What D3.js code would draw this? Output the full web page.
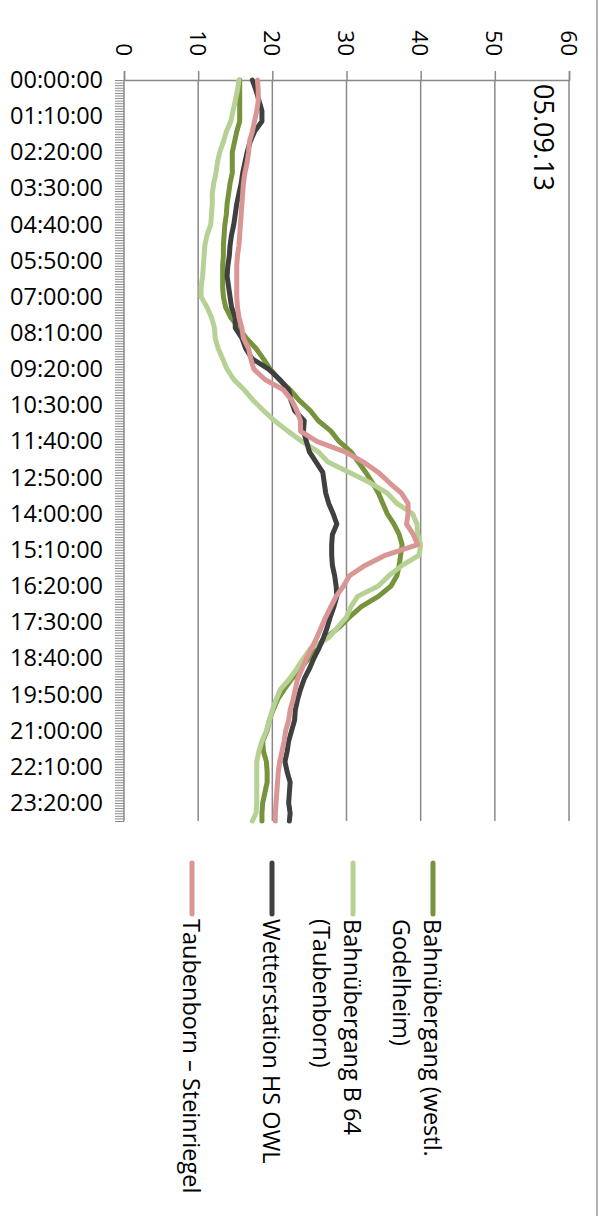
<!DOCTYPE html>
<html>
<head>
<meta charset="utf-8">
<script src="https://cdn.jsdelivr.net/npm/d3@7"></script>
<style>
  html, body { margin: 0; padding: 0; background: #fff; }
  svg { display: block; font-family: "Open Sans", sans-serif; }
</style>
</head>
<body>
<svg id="chart" width="610" height="1216"></svg>
<script>
// ---------- DATA ----------
const chartTitle = "05.09.13";
const tempTicks = [0, 10, 20, 30, 40, 50, 60];
const timeLabels = ["00:00:00","01:10:00","02:20:00","03:30:00","04:40:00","05:50:00","07:00:00",
  "08:10:00","09:20:00","10:30:00","11:40:00","12:50:00","14:00:00","15:10:00","16:20:00",
  "17:30:00","18:40:00","19:50:00","21:00:00","22:10:00","23:20:00"];
// sample times in minutes after midnight (read every 20 min)
const sampleMinutes = [0,20,40,60,80,100,120,140,160,180,200,220,240,260,280,300,320,340,360,380,
  400,420,440,460,480,500,520,540,560,580,600,620,640,660,680,700,720,740,760,780,800,820,840,860,
  880,900,920,940,960,980,1000,1020,1040,1060,1080,1100,1120,1140,1160,1180,1200,1220,1240,1260,
  1280,1300,1320,1340,1360,1380,1400,1420,1435];

const seriesNames = ["Bahnübergang (westl. Godelheim)", "Bahnübergang B 64 (Taubenborn)",
  "Wetterstation HS OWL", "Taubenborn – Steinriegel"];
const legendLines = [["Bahnübergang (westl.", "Godelheim)"], ["Bahnübergang B 64", "(Taubenborn)"],
  ["Wetterstation HS OWL"], ["Taubenborn – Steinriegel"]];

const godelheim = [15.6,15.6,15.6,15.6,15.6,15.2,14.9,14.6,14.6,14.6,14.3,14.1,13.9,13.8,13.6,13.5,
  13.4,13.4,13.3,13.3,13.3,13.4,13.7,14.4,15.5,16.5,17.8,18.8,19.7,20.9,22.4,23.6,25.1,26.2,27.9,
  29.0,30.6,31.6,32.6,33.5,34.3,34.9,35.5,36.4,37.1,37.5,37.3,37.1,36.8,36.0,34.3,32.0,30.4,29.0,
  27.2,26.0,24.9,23.8,22.6,21.6,20.7,20.1,19.6,19.3,18.7,18.8,19.2,19.3,19.3,19.0,18.7,18.6,18.6];
const b64 = [15.5,15.3,15.0,14.7,14.4,13.8,13.4,12.9,12.6,12.4,12.1,11.9,11.9,11.8,11.7,11.2,10.9,
  10.8,10.7,10.6,10.4,10.4,11.2,11.8,12.2,12.3,12.7,13.3,13.9,14.8,16.2,17.4,18.8,20.3,22.1,24.0,
  26.2,27.5,30.4,33.2,35.5,36.8,38.9,39.5,39.6,40.0,39.8,37.5,35.7,34.3,31.5,30.6,30.0,28.8,27.6,
  25.2,24.2,23.3,22.3,21.1,20.5,20.0,19.6,19.2,18.6,18.2,17.9,17.9,17.9,17.9,17.9,17.8,17.3];
const wetterstation = [17.3,17.8,18.2,18.6,18.6,17.6,17.0,16.6,16.3,16.0,15.8,15.5,15.2,15.0,14.8,
  14.5,14.3,14.2,14.0,13.9,14.1,14.3,14.5,15.0,15.0,15.9,16.4,17.3,19.5,21.0,22.2,22.5,23.0,24.3,
  24.2,24.6,25.0,25.9,26.8,27.0,27.2,27.6,28.2,28.7,28.1,28.0,28.0,28.1,28.4,28.6,28.7,28.3,27.8,
  27.4,26.9,26.3,25.6,25.0,24.3,23.8,23.4,23.1,23.0,22.6,22.2,22.0,21.7,22.0,22.4,22.3,22.2,22.4,22.3];
const steinriegel = [18.0,18.1,18.1,17.9,17.6,17.3,16.9,16.8,16.6,16.3,16.1,16.0,15.9,15.8,15.7,
  15.6,15.5,15.3,15.2,15.2,15.2,15.2,15.3,15.5,15.9,16.1,16.8,17.1,17.5,19.0,21.5,22.6,23.3,23.8,
  23.8,26.0,29.8,32.3,34.3,35.8,37.4,38.3,38.3,38.1,39.0,39.6,35.3,32.5,30.4,29.6,28.6,27.9,27.2,
  26.6,26.0,25.3,24.6,24.0,23.4,23.1,22.8,22.4,22.2,21.8,21.6,21.3,21.0,20.8,20.7,20.6,20.5,20.4,20.4];

const seriesValues = [godelheim, b64, wetterstation, steinriegel];
const seriesColors = ["#77933C", "#B6D194", "#404040", "#D99694"];

// ---------- LAYOUT ----------
const svg = d3.select("#chart");
const plotTop = 80, plotBottom = 821, plotLeft = 124, plotRight = 569;
const gridColor = "#898989";

const x = d3.scaleLinear().domain([0, 60]).range([plotLeft, plotRight]);
const y = d3.scaleLinear().domain([0, 1435]).range([plotTop, plotBottom]);

// outer border (right edge visible)
svg.append("line").attr("x1", 597).attr("x2", 597).attr("y1", 0).attr("y2", 1216)
  .attr("stroke", gridColor).attr("stroke-width", 1.3);

// vertical gridlines
svg.append("g").selectAll("line").data(tempTicks.slice(1)).join("line")
  .attr("x1", d => x(d)).attr("x2", d => x(d))
  .attr("y1", plotTop).attr("y2", plotBottom)
  .attr("stroke", gridColor).attr("stroke-width", 1.5);

// temperature axis on top
const xAxis = svg.append("g").attr("transform", `translate(0,${plotTop})`)
  .call(d3.axisTop(x).tickValues(tempTicks).tickSize(9).tickFormat(""));
xAxis.select(".domain").attr("stroke", gridColor).attr("stroke-width", 1.5);
xAxis.selectAll(".tick line").attr("stroke", gridColor).attr("stroke-width", 1.5);
svg.append("g").selectAll("text").data(tempTicks).join("text")
  .attr("transform", d => `translate(${x(d)},56) rotate(90)`)
  .attr("text-anchor", "end").attr("dominant-baseline", "central")
  .attr("font-size", 22.5).attr("fill", "#000")
  .text(d => d);

// time axis on the left
const minorTicks = d3.range(0, 1436, 5);
const yAxis = svg.append("g").attr("transform", `translate(${plotLeft},0)`)
  .call(d3.axisLeft(y).tickValues(minorTicks).tickSize(9).tickPadding(12)
    .tickFormat(m => m % 70 === 0 ? timeLabels[m / 70] : ""));
yAxis.select(".domain").attr("stroke", gridColor).attr("stroke-width", 1.5).attr("d", `M0,${plotTop}V${plotBottom}`);
yAxis.selectAll(".tick line").attr("stroke", gridColor).attr("stroke-width", 1);
yAxis.selectAll(".tick text").attr("font-size", 23.5).attr("fill", "#000")
  .attr("font-family", "'Open Sans', sans-serif");

// series lines
const line = d3.line().x(d => x(d[1])).y(d => y(d[0]));
seriesValues.forEach((vals, i) => {
  const pts = sampleMinutes.map((m, j) => [m, vals[j]]);
  svg.append("path").datum(pts)
    .attr("d", line).attr("fill", "none")
    .attr("stroke", seriesColors[i]).attr("stroke-width", 5)
    .attr("stroke-linejoin", "round").attr("stroke-linecap", "round");
});

// title
svg.append("text")
  .attr("transform", `translate(544,84) rotate(90)`)
  .attr("text-anchor", "start").attr("dominant-baseline", "central")
  .attr("font-size", 27).attr("fill", "#000").text(chartTitle);

// legend
const legendX = [433, 353, 272, 192];
const legend = svg.append("g");
legendLines.forEach((lines, i) => {
  legend.append("line")
    .attr("x1", legendX[i]).attr("x2", legendX[i]).attr("y1", 863).attr("y2", 914)
    .attr("stroke", seriesColors[i]).attr("stroke-width", 5).attr("stroke-linecap", "round");
  const t = legend.append("text")
    .attr("transform", `translate(${legendX[i]},919) rotate(90)`)
    .attr("dominant-baseline", "central").attr("font-size", 23.5).attr("fill", "#000");
  lines.forEach((l, k) => {
    t.append("tspan").attr("x", 0).attr("dy", k === 0 ? 0 : 31).text(l);
  });
});
</script>
</body>
</html>
